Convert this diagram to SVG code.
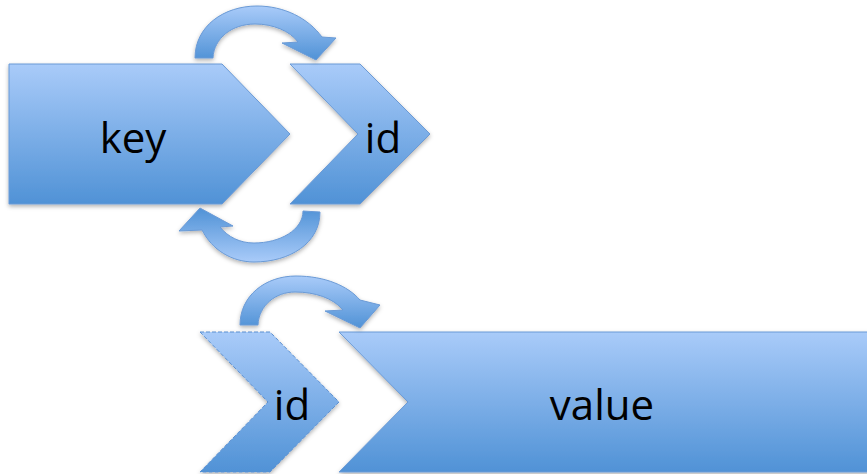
<svg xmlns="http://www.w3.org/2000/svg" width="867" height="474" viewBox="0 0 867 474">
  <defs>
    <linearGradient id="fillDown" x1="0" y1="0" x2="0" y2="1">
      <stop offset="0" stop-color="#a9cbf9"/>
      <stop offset="1" stop-color="#5092d6"/>
    </linearGradient>
    <linearGradient id="fillUp" x1="0" y1="1" x2="0" y2="0">
      <stop offset="0" stop-color="#a9cbf9"/>
      <stop offset="1" stop-color="#5092d6"/>
    </linearGradient>
    <filter id="shadow" x="-10%" y="-10%" width="120%" height="130%">
      <feDropShadow dx="0" dy="2" stdDeviation="2" flood-color="#000" flood-opacity="0.3"/>
    </filter>
  </defs>
  <style>
    .shape { fill: url(#fillDown); stroke: #6a9ad6; stroke-width: 1; filter: url(#shadow); }
    .dashed { stroke: #5b8fd0; stroke-dasharray: 4 2; }
    .arrow { stroke: #6a9ad6; stroke-width: 1; filter: url(#shadow); }
    .label { font-family: "Open Sans", "Liberation Sans", sans-serif; font-size: 42px; fill: #000; text-anchor: middle; }
  </style>

  <rect width="867" height="474" fill="#fff"/>

  <g id="key">
    <polygon class="shape" points="9,64 222,64 290,134 222,204 9,204"/>
    <text class="label" x="133" y="153">key</text>
  </g>

  <g id="id-top">
    <polygon class="shape" points="290,64 360,64 430,134 360,204 290,204 358,134"/>
    <text class="label" x="383" y="153">id</text>
  </g>

  <g id="id-bottom">
    <polygon class="shape dashed" points="200,332 270,332 339,402 270,472 200,472 268,402"/>
    <text class="label" x="292" y="420">id</text>
  </g>

  <g id="value">
    <polygon class="shape" points="339,332 870,332 870,472 339,472 408,402"/>
    <text class="label" x="602" y="420">value</text>
  </g>

  <g id="connectors">
    <!-- key to id, over the top -->
    <path class="arrow" fill="url(#fillDown)" d="M195,58 C195,26 224,6 257,6 C284,6 308,18 322,37 L336,38 L316,60 L282,43 L298,42 C290,31 273,24 255,24 C232,24 214,38 213,58 Z"/>
    <!-- id back to key, underneath -->
    <path class="arrow" fill="url(#fillUp)" d="M320,212 C320,243 290,262 254,262 C232,262 212,250 202,230 L179,231 L200,208 L233,226 L220,227 C228,237 240,243 254,243 C280,243 303,230 303,211 Z"/>
    <!-- id to value -->
    <path class="arrow" fill="url(#fillDown)" d="M240,325 C240,296 265,276 296,276 C325,276 348,286 360,300 L380,305 L360,328 L325,311 L343,310 C333,298 315,292 295,292 C276,292 259,305 258,325 Z"/>
  </g>
</svg>
